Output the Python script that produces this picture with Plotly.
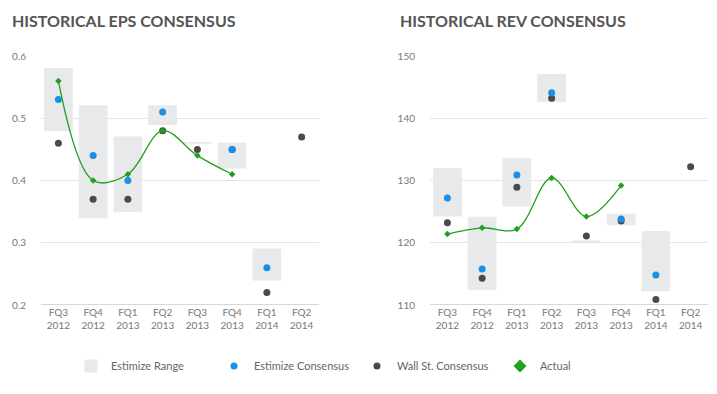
import plotly.graph_objects as go

quarters = ["FQ3<br>2012", "FQ4<br>2012", "FQ1<br>2013", "FQ2<br>2013",
            "FQ3<br>2013", "FQ4<br>2013", "FQ1<br>2014", "FQ2<br>2014"]

# EPS
eps_range_low = [0.48, 0.34, 0.35, 0.49, 0.46, 0.42, 0.24, None]
eps_range_high = [0.58, 0.52, 0.47, 0.52, 0.461, 0.46, 0.29, None]
eps_estimize = [0.53, 0.44, 0.40, 0.51, None, 0.45, 0.26, None]
eps_wallst = [0.46, 0.37, 0.37, 0.48, 0.45, 0.45, 0.22, 0.47]
eps_actual = [0.56, 0.40, 0.41, 0.48, 0.44, 0.41, None, None]

# Revenue
rev_range_low = [124.3, 112.5, 125.9, 142.7, 120.2, 122.9, 112.3, None]
rev_range_high = [131.9, 124.1, 133.5, 147.0, 120.3, 124.6, 121.8, None]
rev_estimize = [127.2, 115.8, 130.9, 144.1, None, 123.8, 114.8, None]
rev_wallst = [123.2, 114.3, 128.9, 143.2, 121.1, 123.5, 110.9, 132.2]
rev_actual = [121.4, 122.4, 122.2, 130.4, 124.2, 129.2, None, None]

RANGE_C = "#e8e9eb"
BLUE = "#1a8fe8"
GRAY = "#4a4a4a"
GREEN = "#1fa01f"
FONT = "Lato, Open Sans, sans-serif"

fig = go.Figure()


def add_panel(low, high, est, ws, act, xa, ya, show):
    heights = [None if (l is None or h is None) else h - l for l, h in zip(low, high)]
    fig.add_trace(go.Bar(x=quarters, y=heights, base=low, width=0.8,
                         marker=dict(color=RANGE_C, line=dict(color=RANGE_C, width=1)),
                         name="Estimize Range", legendgroup="r", showlegend=show,
                         legendrank=1, xaxis=xa, yaxis=ya))
    fig.add_trace(go.Scatter(x=quarters, y=ws, mode="markers",
                             marker=dict(color=GRAY, size=7),
                             name="Wall St. Consensus", legendgroup="w", showlegend=show,
                             legendrank=3, xaxis=xa, yaxis=ya))
    fig.add_trace(go.Scatter(x=quarters, y=est, mode="markers",
                             marker=dict(color=BLUE, size=7),
                             name="Estimize Consensus", legendgroup="e", showlegend=show,
                             legendrank=2, xaxis=xa, yaxis=ya))
    fig.add_trace(go.Scatter(x=quarters, y=act, mode="lines+markers",
                             line=dict(color=GREEN, width=1.3, shape="spline", smoothing=1),
                             marker=dict(color=GREEN, size=5, symbol="diamond"),
                             name="Actual", legendgroup="a", showlegend=False,
                             xaxis=xa, yaxis=ya))


add_panel(eps_range_low, eps_range_high, eps_estimize, eps_wallst, eps_actual, "x", "y", True)
add_panel(rev_range_low, rev_range_high, rev_estimize, rev_wallst, rev_actual, "x2", "y2", False)

# legend entry for Actual showing only the diamond symbol
fig.add_trace(go.Scatter(x=[None], y=[None], mode="markers",
                         marker=dict(color=GREEN, size=10, symbol="diamond"),
                         name="Actual", legendgroup="a", showlegend=True, legendrank=4,
                         xaxis="x", yaxis="y"))

# page body has an 8px margin; lay out in page pixels minus that offset
O = 8
W, H = 717 - O, 394 - O


def px(x):
    return (x - O) / W


def py(y):
    return 1 - (y - O) / H


ydom = [py(305), py(56)]
tickfont = dict(family=FONT, size=10, color="#777")

xcommon = dict(type="category", range=[-0.5, 7.5], showgrid=False, zeroline=False,
               showline=False, ticks="", tickfont=tickfont)
ycommon = dict(showgrid=True, gridcolor="#e4e4e4", gridwidth=1, zeroline=False,
               showline=False, ticks="outside", ticklen=12, tickcolor="rgba(0,0,0,0)",
               tickfont=tickfont, domain=ydom)

fig.update_layout(
    width=W, height=H,
    margin=dict(l=0, r=0, t=0, b=0, autoexpand=False),
    paper_bgcolor="white", plot_bgcolor="white",
    barmode="overlay",
    showlegend=True,
    xaxis=dict(xcommon, domain=[px(41), px(319)], anchor="y"),
    xaxis2=dict(xcommon, domain=[px(430), px(708)], anchor="y2"),
    yaxis=dict(ycommon, range=[0.2, 0.6], dtick=0.1, tickformat=".1f", anchor="x"),
    yaxis2=dict(ycommon, range=[110, 150], dtick=10, anchor="x2"),
    legend=dict(orientation="h", x=px(71), xanchor="left", y=py(366), yanchor="middle",
                font=dict(family=FONT, size=11, color="#666"),
                entrywidth=98, itemwidth=30, traceorder="normal"),
    annotations=[
        dict(text="<b>HISTORICAL EPS CONSENSUS</b>", x=px(10), y=py(20), xref="paper", yref="paper",
             xanchor="left", yanchor="middle", showarrow=False,
             font=dict(family=FONT, size=16, color="#555")),
        dict(text="<b>HISTORICAL REV CONSENSUS</b>", x=px(398), y=py(20), xref="paper", yref="paper",
             xanchor="left", yanchor="middle", showarrow=False,
             font=dict(family=FONT, size=16, color="#555")),
    ],
    shapes=[
        dict(type="line", xref="x domain", yref="y", x0=0, x1=1, y0=0.2, y1=0.2,
             line=dict(color="#d8d8d8", width=2), layer="below"),
        dict(type="line", xref="x2 domain", yref="y2", x0=0, x1=1, y0=110, y1=110,
             line=dict(color="#d8d8d8", width=2), layer="below"),
    ],
)

fig.write_html("out.html")
